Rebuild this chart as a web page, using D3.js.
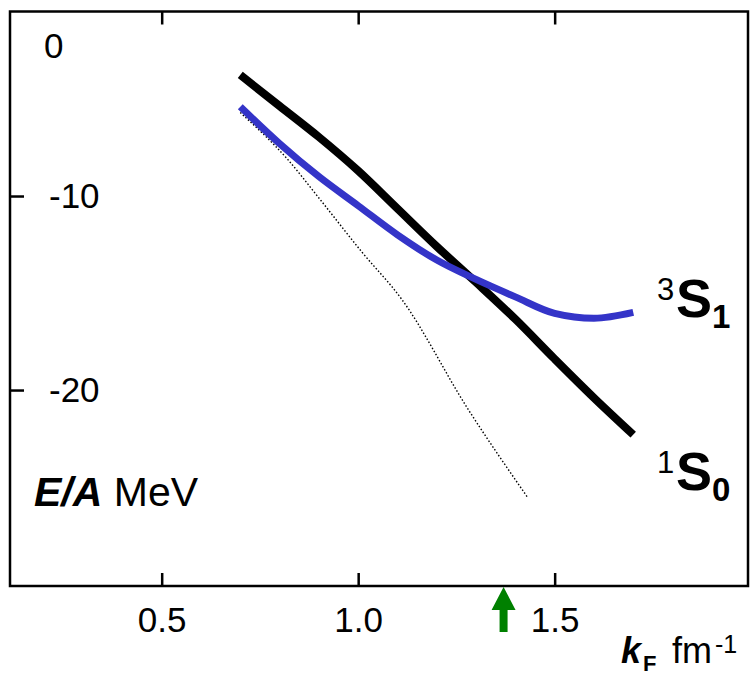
<!DOCTYPE html>
<html>
<head>
<meta charset="utf-8">
<script src="https://cdn.jsdelivr.net/npm/d3@7/dist/d3.min.js"></script>
<style>
  body { margin: 0; background: #fff; }
  svg { display: block; font-family: "Liberation Sans", Arial, sans-serif; }
</style>
</head>
<body>
<div id="root"></div>
<script>
// k_F values (fm^-1) and E/A (MeV)
const kF = [0.70, 0.80, 0.90, 1.00, 1.10, 1.20, 1.30, 1.40, 1.50, 1.60, 1.70];
const e1S0 = [-3.76, -5.36, -6.96, -8.7, -10.65, -12.6, -14.45, -16.35, -18.4, -20.4, -22.3];
const e3S1 = [-5.4, -7.3, -9.0, -10.5, -12.0, -13.3, -14.3, -15.2, -16.05, -16.3, -16.0];
const kFDot = [0.70, 0.82, 0.90, 1.01, 1.11, 1.28, 1.43];
const eDot = [-5.7, -8.1, -10.1, -12.9, -15.3, -21.0, -25.5];
const xTicks = [0.5, 1.0, 1.5];
const yTicks = [-10, -20];
const kFSat = 1.37;

const W = 751, H = 677;
const frame = { left: 10, right: 748, top: 11.5, bottom: 586 };
const FONT = '"Liberation Sans", Arial, sans-serif';

const svg = d3.select('#root').append('svg')
  .attr('width', W).attr('height', H);

const x = d3.scaleLinear().domain([0.114, 1.992]).range([frame.left, frame.right]);
const y = d3.scaleLinear().domain([-0.49, -30.1]).range([frame.top, frame.bottom]);

// frame
svg.append('rect')
  .attr('x', frame.left).attr('y', frame.top)
  .attr('width', frame.right - frame.left).attr('height', frame.bottom - frame.top)
  .attr('fill', 'none').attr('stroke', '#000').attr('stroke-width', 2.5);

// bottom axis, ticks pointing inward
const xAxis = svg.append('g')
  .attr('transform', `translate(0,${frame.bottom})`)
  .call(d3.axisBottom(x).tickValues(xTicks).tickSize(-13).tickPadding(21)
    .tickFormat(d3.format('.1f')));
xAxis.select('.domain').remove();
xAxis.selectAll('line').attr('stroke-width', 2.5);
xAxis.selectAll('text').attr('font-size', 35).attr('fill', '#000').attr('font-family', FONT);

// top mirror ticks
const xTop = svg.append('g')
  .attr('transform', `translate(0,${frame.top})`)
  .call(d3.axisTop(x).tickValues(xTicks).tickSize(-13).tickFormat(''));
xTop.select('.domain').remove();
xTop.selectAll('line').attr('stroke-width', 2.5);

// left axis, labels sit inside the frame (plain hyphen for minus)
const yAxis = svg.append('g')
  .attr('transform', `translate(${frame.left},0)`)
  .call(d3.axisLeft(y).tickValues(yTicks).tickSize(-14).tickFormat(d => String(d)));
yAxis.select('.domain').remove();
yAxis.selectAll('line').attr('stroke-width', 2.5);
yAxis.selectAll('text')
  .attr('x', 39).attr('text-anchor', 'start')
  .attr('font-size', 35).attr('fill', '#000').attr('font-family', FONT);

// the "0" label sits below the top edge (0 itself is just off the frame)
svg.append('text')
  .attr('x', 44).attr('y', y(0) + 56)
  .attr('font-size', 35).text('0');

const line = d3.line().x(d => x(d[0])).y(d => y(d[1])).curve(d3.curveMonotoneX);

svg.append('path')
  .datum(d3.zip(kFDot, eDot))
  .attr('d', line)
  .attr('fill', 'none').attr('stroke', '#000')
  .attr('stroke-width', 1.4).attr('stroke-dasharray', '1.5,2');

svg.append('path')
  .datum(d3.zip(kF, e1S0))
  .attr('d', line)
  .attr('fill', 'none').attr('stroke', '#000').attr('stroke-width', 8);

svg.append('path')
  .datum(d3.zip(kF, e3S1))
  .attr('d', line)
  .attr('fill', 'none').attr('stroke', '#3434c8').attr('stroke-width', 7);

// curve labels
function waveLabel(px, py, sup, sub) {
  const g = svg.append('g').attr('fill', '#000');
  g.append('text').attr('x', px).attr('y', py - 17).attr('font-size', 31).text(sup);
  g.append('text').attr('x', px + 19).attr('y', py).attr('font-size', 54)
    .attr('font-weight', 'bold').text('S');
  g.append('text').attr('x', px + 55).attr('y', py + 11).attr('font-size', 33)
    .attr('font-weight', 'bold').text(sub);
}
waveLabel(657, 317, '3', '1');
waveLabel(657, 490, '1', '0');

// y axis title
const yt = svg.append('text').attr('x', 34).attr('y', 506).attr('font-size', 41);
yt.append('tspan').attr('font-weight', 'bold').attr('font-style', 'italic').text('E/A');
yt.append('tspan').text(' MeV');

// x axis title
svg.append('text').attr('x', 621).attr('y', 663).attr('font-size', 36)
  .attr('font-weight', 'bold').attr('font-style', 'italic').text('k');
svg.append('text').attr('x', 643).attr('y', 671).attr('font-size', 22)
  .attr('font-weight', 'bold').text('F');
svg.append('text').attr('x', 672).attr('y', 663).attr('font-size', 36).text('fm');
svg.append('text').attr('x', 715).attr('y', 653).attr('font-size', 25).text('-1');

// saturation arrow
const ax = x(kFSat);
svg.append('path')
  .attr('d', `M${ax},${frame.bottom + 1} L${ax + 12},${frame.bottom + 24} L${ax + 4},${frame.bottom + 24}
    L${ax + 4},${frame.bottom + 46} L${ax - 4},${frame.bottom + 46} L${ax - 4},${frame.bottom + 24}
    L${ax - 12},${frame.bottom + 24} Z`)
  .attr('fill', '#008000');
</script>
</body>
</html>
